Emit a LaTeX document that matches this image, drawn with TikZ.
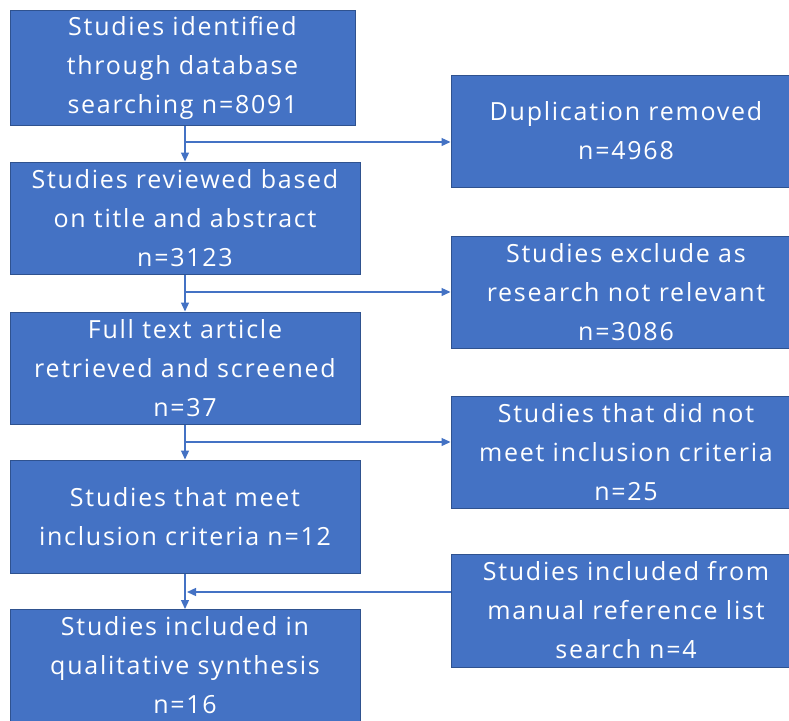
\documentclass[tikz,border=0pt]{standalone}
\usepackage{fontspec}
\setmainfont[LetterSpace=7]{Open Sans}
\usepackage{tikz}
\usetikzlibrary{arrows.meta}
\definecolor{boxblue}{HTML}{4472C4}
\definecolor{edgeblue}{HTML}{2F528F}
\tikzstyle{box} = [draw=edgeblue,fill=boxblue,line width=1pt,text=white,align=center,
  inner sep=0pt,font=\fontsize{25}{39}\selectfont]
\tikzstyle{leftbox} = [box,minimum width=350pt,minimum height=112pt]
\tikzstyle{rightbox} = [box,minimum width=350pt,minimum height=112pt]
\tikzstyle{link} = [draw=boxblue,line width=1.3pt,-{Triangle[length=9pt,width=8pt]}]

\begin{document}
\begin{tikzpicture}[x=1pt,y=-1pt]
  \useasboundingbox (0,0) rectangle (789,720);
  \clip (0,0) rectangle (789,720);
  \node [leftbox,minimum width=345pt,minimum height=115pt] (ident) at (182.5,67.5)
    {Studies identified \\ through database \\ searching n=8091};
  \node [leftbox] (review) at (185,218) {Studies reviewed based \\ on title and abstract \\ n=3123};
  \node [leftbox] (full) at (185,368) {Full text article \\ retrieved and screened \\ n=37};
  \node [leftbox,minimum height=113pt] (meet) at (185,516.5) {Studies that meet \\ inclusion criteria n=12};
  \node [leftbox] (synth) at (185,665.5)
    {Studies included in \\ qualitative synthesis \\ n=16};
  \node [rightbox] (dup) at (626,131) {Duplication removed \\ n=4968};
  \node [rightbox] (excl) at (626,292) {Studies exclude as \\ research not relevant \\ n=3086};
  \node [rightbox] (notmeet) at (626,452) {Studies that did not \\ meet inclusion criteria \\ n=25};
  \node [rightbox,minimum height=113pt] (manual) at (626,610.5)
    {Studies included from \\ manual reference list \\ search n=4};
  \coordinate (j1) at (185,142);
  \coordinate (j2) at (185,292);
  \coordinate (j3) at (185,442);
  \coordinate (j4) at (185,592);
  \draw [link] (ident.south -| j1) -- (review.north -| j1);
  \draw [link] (j1) -- (j1 -| dup.west);
  \draw [link] (review.south -| j2) -- (full.north -| j2);
  \draw [link] (j2) -- (j2 -| excl.west);
  \draw [link] (full.south -| j3) -- (meet.north -| j3);
  \draw [link] (j3) -- (j3 -| notmeet.west);
  \draw [link] (meet.south -| j4) -- (synth.north -| j4);
  \draw [link] (j4 -| manual.west) -- ([xshift=2pt]j4);
\end{tikzpicture}
\end{document}
